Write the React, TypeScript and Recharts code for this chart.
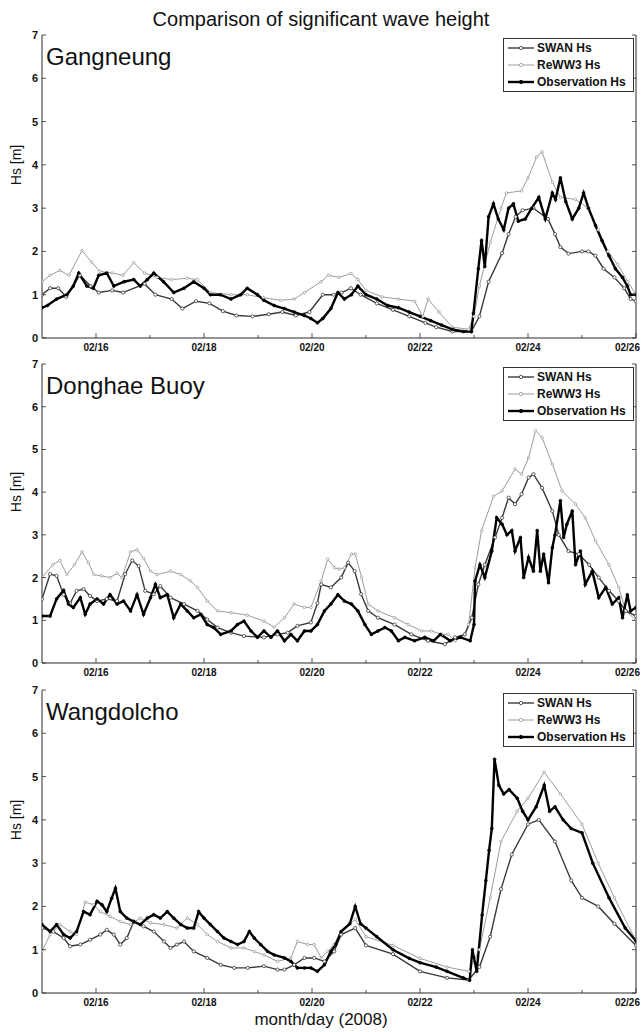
import React from 'react';
import { LineChart, Line, XAxis, YAxis } from 'recharts';

type P = [number, number][];

// ---------------- Data (time in days of Feb 2008, Hs in m) ----------------
const gangSwan: P = [[15.0,1.0],[15.15,1.15],[15.3,1.15],[15.45,0.95],[15.7,1.45],[15.9,1.2],[16.05,1.05],[16.3,1.1],[16.5,1.05],[16.9,1.25],[17.1,1.0],[17.4,0.9],[17.6,0.68],[17.85,0.85],[18.1,0.8],[18.35,0.62],[18.6,0.52],[18.9,0.5],[19.2,0.55],[19.45,0.6],[19.7,0.52],[19.95,0.6],[20.2,1.0],[20.4,1.0],[20.55,1.05],[20.72,1.15],[20.9,1.0],[21.2,0.8],[21.5,0.65],[21.8,0.5],[22.1,0.35],[22.3,0.25],[22.6,0.15],[22.95,0.15],[23.1,0.5],[23.27,1.3],[23.52,1.96],[23.64,2.4],[23.77,2.8],[23.9,2.95],[24.1,3.0],[24.37,2.75],[24.5,2.4],[24.6,2.1],[24.75,1.95],[25.0,2.0],[25.12,2.0],[25.25,1.9],[25.4,1.6],[25.6,1.4],[25.78,1.15],[25.9,0.9],[26.0,0.85]];
const gangReww3: P = [[15.0,1.3],[15.15,1.45],[15.33,1.56],[15.5,1.45],[15.74,2.02],[15.92,1.75],[16.07,1.54],[16.3,1.5],[16.5,1.45],[16.7,1.74],[16.9,1.5],[17.13,1.4],[17.4,1.35],[17.69,1.38],[17.88,1.35],[18.12,1.05],[18.5,1.0],[18.8,1.0],[19.1,0.93],[19.42,0.87],[19.67,0.9],[19.86,1.05],[20.17,1.3],[20.3,1.45],[20.5,1.4],[20.72,1.49],[20.85,1.35],[21.0,1.1],[21.3,0.95],[21.6,0.9],[21.9,0.85],[22.05,0.5],[22.15,0.9],[22.35,0.6],[22.6,0.25],[22.9,0.2],[23.0,0.5],[23.1,1.2],[23.3,2.2],[23.5,3.0],[23.6,3.35],[23.88,3.4],[24.0,3.7],[24.16,4.18],[24.26,4.3],[24.45,3.6],[24.6,3.25],[24.88,3.2],[25.12,3.0],[25.3,2.5],[25.48,2.0],[25.66,1.7],[25.85,1.3],[26.0,1.0]];
const gangObs: P = [[15.0,0.7],[15.1,0.75],[15.27,0.9],[15.46,1.0],[15.58,1.2],[15.68,1.5],[15.83,1.2],[15.95,1.15],[16.05,1.45],[16.2,1.5],[16.33,1.2],[16.52,1.3],[16.7,1.35],[16.82,1.2],[16.95,1.35],[17.07,1.5],[17.25,1.3],[17.44,1.05],[17.63,1.15],[17.81,1.3],[18.0,1.15],[18.12,1.0],[18.3,1.0],[18.5,0.9],[18.68,1.0],[18.8,1.15],[18.99,1.0],[19.11,0.87],[19.3,0.75],[19.49,0.68],[19.67,0.6],[19.86,0.52],[19.98,0.45],[20.1,0.35],[20.2,0.45],[20.35,0.68],[20.48,1.05],[20.6,0.9],[20.73,1.0],[20.85,1.2],[21.0,1.0],[21.2,0.9],[21.4,0.75],[21.6,0.7],[21.8,0.6],[22.0,0.5],[22.2,0.4],[22.4,0.3],[22.6,0.2],[22.8,0.15],[22.95,0.15],[22.99,0.57],[23.08,1.6],[23.14,2.26],[23.2,1.65],[23.27,2.8],[23.36,3.1],[23.45,2.75],[23.55,2.5],[23.64,3.0],[23.73,3.1],[23.82,2.7],[23.95,2.75],[24.07,3.0],[24.2,3.25],[24.32,2.75],[24.45,3.35],[24.51,3.2],[24.6,3.7],[24.7,3.15],[24.82,2.75],[24.94,3.0],[25.03,3.35],[25.12,3.0],[25.25,2.6],[25.37,2.25],[25.5,1.9],[25.62,1.6],[25.75,1.4],[25.84,1.2],[25.9,1.0],[26.0,1.0]];

const dongSwan: P = [[15.0,1.5],[15.15,2.08],[15.27,2.04],[15.4,1.6],[15.52,1.4],[15.64,1.69],[15.77,1.73],[15.89,1.57],[16.02,1.45],[16.2,1.5],[16.39,1.45],[16.54,2.08],[16.67,2.4],[16.79,2.27],[16.91,1.69],[17.07,1.61],[17.19,1.8],[17.38,1.53],[17.63,1.38],[17.88,1.22],[18.06,1.02],[18.25,0.83],[18.5,0.71],[18.74,0.63],[19.11,0.6],[19.36,0.67],[19.55,0.71],[19.73,0.87],[19.98,0.95],[20.1,1.4],[20.17,1.84],[20.35,1.77],[20.54,2.0],[20.67,2.35],[20.79,2.15],[20.91,1.61],[21.04,1.22],[21.22,1.06],[21.53,0.9],[21.84,0.67],[22.15,0.52],[22.46,0.44],[22.65,0.6],[22.83,0.67],[22.96,1.06],[23.08,1.84],[23.2,2.3],[23.39,2.94],[23.52,3.4],[23.64,3.87],[23.76,3.72],[23.88,3.95],[24.01,4.34],[24.1,4.42],[24.26,4.1],[24.45,3.56],[24.57,3.0],[24.75,2.62],[24.94,2.55],[25.13,2.3],[25.31,2.0],[25.5,1.69],[25.68,1.45],[25.81,1.22],[26.0,1.1]];
const dongReww3: P = [[15.0,2.0],[15.2,2.3],[15.33,2.4],[15.46,2.07],[15.6,2.3],[15.74,2.6],[15.86,2.35],[15.96,2.07],[16.1,2.04],[16.26,2.0],[16.39,2.1],[16.48,2.0],[16.64,2.6],[16.76,2.65],[16.88,2.45],[17.01,2.15],[17.13,2.07],[17.38,2.15],[17.57,2.07],[17.75,1.92],[17.88,1.77],[18.06,1.45],[18.25,1.22],[18.5,1.18],[18.8,1.12],[19.11,0.98],[19.3,0.84],[19.49,1.06],[19.67,1.38],[19.86,1.3],[19.98,1.3],[20.17,1.92],[20.29,2.43],[20.42,2.23],[20.5,2.2],[20.6,2.23],[20.73,2.55],[20.8,2.55],[20.92,2.0],[21.04,1.38],[21.22,1.22],[21.53,1.06],[21.78,0.9],[22.03,0.75],[22.21,0.75],[22.4,0.67],[22.52,0.67],[22.65,0.52],[22.83,0.67],[22.9,0.9],[23.02,2.23],[23.14,3.1],[23.36,3.9],[23.52,4.03],[23.76,4.54],[23.88,4.42],[24.01,4.8],[24.14,5.44],[24.26,5.28],[24.45,4.66],[24.63,4.03],[24.88,3.72],[25.06,3.4],[25.25,2.86],[25.5,2.3],[25.68,1.77],[25.81,1.22],[26.0,1.0]];
const dongObs: P = [[15.0,1.1],[15.15,1.1],[15.27,1.5],[15.4,1.7],[15.49,1.38],[15.58,1.3],[15.71,1.53],[15.8,1.14],[15.89,1.38],[16.02,1.5],[16.14,1.38],[16.26,1.6],[16.39,1.38],[16.51,1.45],[16.64,1.22],[16.76,1.6],[16.88,1.14],[17.01,1.53],[17.1,1.84],[17.19,1.53],[17.32,1.6],[17.44,1.06],[17.57,1.38],[17.69,1.22],[17.81,1.06],[17.94,1.14],[18.06,0.9],[18.18,0.83],[18.31,0.67],[18.5,0.75],[18.62,0.9],[18.74,0.98],[18.87,0.75],[18.99,0.6],[19.11,0.75],[19.24,0.6],[19.36,0.75],[19.49,0.52],[19.61,0.67],[19.73,0.52],[19.86,0.75],[19.98,0.75],[20.1,0.9],[20.23,1.22],[20.35,1.38],[20.48,1.6],[20.6,1.45],[20.73,1.38],[20.85,1.22],[20.98,0.9],[21.1,0.67],[21.22,0.75],[21.35,0.83],[21.47,0.75],[21.6,0.52],[21.72,0.6],[21.9,0.52],[22.09,0.6],[22.25,0.52],[22.38,0.67],[22.56,0.52],[22.75,0.6],[22.93,0.52],[23.0,0.9],[23.02,1.92],[23.11,2.3],[23.2,2.0],[23.33,2.62],[23.42,3.4],[23.52,3.25],[23.61,3.0],[23.7,3.1],[23.76,2.62],[23.86,2.94],[23.92,2.0],[24.01,2.47],[24.1,2.15],[24.17,3.1],[24.23,2.15],[24.29,2.55],[24.38,1.88],[24.45,2.7],[24.5,3.0],[24.6,3.8],[24.66,2.94],[24.72,3.25],[24.82,3.56],[24.88,2.3],[24.97,2.62],[25.06,1.84],[25.19,2.15],[25.31,1.53],[25.44,1.77],[25.56,1.38],[25.68,1.53],[25.75,1.06],[25.84,1.6],[25.9,1.22],[26.0,1.3]];

const wangSwan: P = [[15.0,1.5],[15.21,1.42],[15.4,1.27],[15.52,1.08],[15.71,1.12],[15.89,1.23],[16.08,1.35],[16.2,1.46],[16.33,1.35],[16.45,1.12],[16.57,1.27],[16.7,1.65],[16.88,1.54],[17.07,1.42],[17.26,1.19],[17.38,1.04],[17.5,1.12],[17.63,1.19],[17.81,0.96],[18.06,0.81],[18.31,0.65],[18.56,0.58],[18.81,0.58],[19.11,0.62],[19.36,0.54],[19.49,0.54],[19.67,0.65],[19.86,0.81],[20.04,0.81],[20.23,0.73],[20.41,0.96],[20.54,1.35],[20.8,1.5],[21.0,1.1],[21.5,0.9],[22.0,0.5],[22.5,0.35],[22.9,0.3],[23.1,0.6],[23.3,1.3],[23.5,2.4],[23.7,3.2],[24.0,3.9],[24.2,4.0],[24.5,3.5],[24.8,2.6],[25.0,2.2],[25.3,2.0],[25.6,1.6],[26.0,1.1]];
const wangReww3: P = [[15.0,0.96],[15.15,1.35],[15.33,1.58],[15.52,1.42],[15.64,1.35],[15.8,2.1],[15.95,2.04],[16.08,1.88],[16.26,1.77],[16.45,1.65],[16.64,1.58],[16.82,1.73],[17.01,1.62],[17.26,1.58],[17.5,1.5],[17.69,1.73],[17.88,1.58],[18.06,1.35],[18.25,1.19],[18.5,1.04],[18.74,1.04],[18.93,0.96],[19.11,0.88],[19.36,0.73],[19.61,0.81],[19.73,1.19],[19.92,1.12],[20.04,1.12],[20.17,0.81],[20.29,0.96],[20.41,1.12],[20.54,1.42],[20.8,1.7],[21.0,1.3],[21.5,1.1],[22.0,0.8],[22.5,0.6],[22.9,0.5],[23.1,1.0],[23.3,2.2],[23.5,3.5],[23.8,4.2],[24.0,4.5],[24.3,5.1],[24.6,4.6],[25.0,3.9],[25.3,3.0],[25.6,2.2],[26.0,1.2]];
const wangObs: P = [[15.0,1.58],[15.15,1.42],[15.27,1.58],[15.4,1.35],[15.52,1.27],[15.64,1.42],[15.77,1.88],[15.89,1.81],[16.02,2.12],[16.11,2.04],[16.2,1.88],[16.29,2.19],[16.36,2.42],[16.45,1.88],[16.57,1.73],[16.7,1.65],[16.82,1.58],[16.95,1.73],[17.07,1.81],[17.19,1.73],[17.32,1.88],[17.44,1.73],[17.57,1.58],[17.69,1.5],[17.81,1.5],[17.9,1.88],[18.0,1.73],[18.12,1.58],[18.25,1.42],[18.37,1.27],[18.5,1.19],[18.62,1.12],[18.74,1.19],[18.84,1.42],[18.93,1.27],[19.05,1.12],[19.18,0.96],[19.3,0.88],[19.49,0.81],[19.61,0.73],[19.73,0.58],[19.86,0.58],[19.98,0.58],[20.1,0.5],[20.23,0.65],[20.35,0.96],[20.44,1.12],[20.54,1.42],[20.7,1.6],[20.8,2.0],[20.9,1.6],[21.0,1.5],[21.2,1.3],[21.5,1.0],[21.8,0.8],[22.0,0.7],[22.3,0.6],[22.5,0.5],[22.8,0.35],[22.92,0.3],[22.97,1.0],[23.05,0.5],[23.15,1.8],[23.22,2.6],[23.28,3.3],[23.33,3.8],[23.38,5.4],[23.46,4.8],[23.55,4.6],[23.65,4.7],[23.8,4.5],[23.9,4.2],[24.0,4.0],[24.15,4.3],[24.3,4.8],[24.4,4.2],[24.5,4.3],[24.65,4.0],[24.8,3.8],[25.0,3.7],[25.2,3.0],[25.5,2.2],[25.8,1.5],[26.0,1.2]];

const dayTicks = [16, 17, 18, 19, 20, 21, 22, 23, 24, 25, 26];
const labelDays = [16, 18, 20, 22, 24, 26];
const yTicks = [0, 1, 2, 3, 4, 5, 6, 7];
const seriesNames = ['SWAN Hs', 'ReWW3 Hs', 'Observation Hs'];
const panelNames = ['Gangneung', 'Donghae Buoy', 'Wangdolcho'];

// ---------------- Styles ----------------
const FONT = '"Liberation Sans", Arial, Helvetica, sans-serif';
const AX = '#2a2a2a';
const SWAN_C = '#3a3a3a';
const REWW3_C = '#9c9c9c';
const OBS_C = '#000000';

const toRows = (p: P) => p.map(([t, v]) => ({ t, v }));

const YTick = (props: any) => {
  const { x, y, payload } = props;
  return (
    <g>
      <line x1={x + 4} x2={x + 8} y1={y} y2={y} stroke={AX} strokeWidth={0.8} />
      <text x={x} y={y} dy={4} textAnchor="end" fontSize={11} fontWeight="bold" fill="#111" fontFamily={FONT}>
        {payload.value}
      </text>
    </g>
  );
};
const YRightTick = (props: any) => {
  const { x, y } = props;
  return <line x1={x} x2={x - 4} y1={y} y2={y} stroke={AX} strokeWidth={0.8} />;
};
const XTick = (props: any) => {
  const { x, y, payload } = props;
  const v = payload.value as number;
  const labeled = labelDays.indexOf(v) >= 0;
  const last = v === labelDays[labelDays.length - 1];
  return (
    <g>
      <line x1={x} x2={x} y1={y - 4} y2={y - (labeled ? 9 : 7)} stroke={AX} strokeWidth={0.8} />
      {labeled && (
        <text x={last ? x + 4 : x} y={y} dy={9} textAnchor={last ? 'end' : 'middle'} fontSize={10}
          fontWeight="bold" fill="#111" fontFamily={FONT}>
          {`02/${v}`}
        </text>
      )}
    </g>
  );
};
const XTopTick = (props: any) => {
  const { x, y } = props;
  return <line x1={x} x2={x} y1={y} y2={y + 5} stroke={AX} strokeWidth={0.8} />;
};

const LegendBox = ({ top }: { top: number }) => {
  const styles = [
    { c: SWAN_C, w: 1.4, fill: '#fff' },
    { c: REWW3_C, w: 1, fill: '#fff' },
    { c: OBS_C, w: 2.4, fill: OBS_C },
  ];
  return (
    <div style={{ position: 'absolute', left: 503, top, width: 129, height: 52, border: '1px solid #333',
      background: '#fff', fontFamily: FONT, fontSize: 12, fontWeight: 'bold', color: '#111' }}>
      {seriesNames.map((n, i) => (
        <div key={n} style={{ position: 'absolute', left: 3, top: 2 + i * 17, height: 14, display: 'flex', alignItems: 'center' }}>
          <svg width={28} height={14} style={{ display: 'block' }}>
            <line x1={1} x2={27} y1={7} y2={7} stroke={styles[i].c} strokeWidth={styles[i].w} />
            <circle cx={14} cy={7} r={1.7} fill={styles[i].fill} stroke={styles[i].c} strokeWidth={0.8} />
          </svg>
          <span style={{ marginLeft: 2, whiteSpace: 'nowrap' }}>{n}</span>
        </div>
      ))}
    </div>
  );
};

type PanelProps = { idx: number; top: number; h: number; swan: P; reww3: P; obs: P };

const Panel = ({ idx, top, h, swan, reww3, obs }: PanelProps) => {
  const mt = 10;
  const xh = 24;
  return (
    <div style={{ position: 'absolute', left: 0, top: top - mt }}>
      <LineChart width={642} height={mt + h + xh} margin={{ top: mt, right: 5, bottom: 0, left: 12 }}>
        <XAxis xAxisId="b" dataKey="t" type="number" domain={[15, 26]} ticks={dayTicks} interval={0}
          allowDataOverflow tickSize={0} tickMargin={4} tick={<XTick />} axisLine={{ stroke: AX }} height={xh} />
        <XAxis xAxisId="top" orientation="top" dataKey="t" type="number" domain={[15, 26]} ticks={labelDays} interval={0}
          allowDataOverflow tickSize={0} tickMargin={0} tick={<XTopTick />} axisLine={{ stroke: AX }} height={0} />
        <YAxis yAxisId="l" type="number" domain={[0, 7]} ticks={yTicks} interval={0} allowDataOverflow
          width={30} tickSize={0} tickMargin={4} tick={<YTick />} axisLine={{ stroke: AX }} />
        <YAxis yAxisId="r" orientation="right" type="number" domain={[0, 7]} ticks={yTicks} interval={0} allowDataOverflow
          width={1} tickSize={0} tickMargin={0} tick={<YRightTick />} axisLine={{ stroke: AX }} />
        <Line xAxisId="b" yAxisId="l" data={toRows(reww3)} dataKey="v" name={seriesNames[1]} type="linear"
          stroke={REWW3_C} strokeWidth={1} isAnimationActive={false}
          dot={{ r: 1.3, fill: '#fff', stroke: REWW3_C, strokeWidth: 0.8 }} />
        <Line xAxisId="b" yAxisId="l" data={toRows(swan)} dataKey="v" name={seriesNames[0]} type="linear"
          stroke={SWAN_C} strokeWidth={1.4} isAnimationActive={false}
          dot={{ r: 1.6, fill: '#fff', stroke: SWAN_C, strokeWidth: 0.8 }} />
        <Line xAxisId="b" yAxisId="l" data={toRows(obs)} dataKey="v" name={seriesNames[2]} type="linear"
          stroke={OBS_C} strokeWidth={2.4} isAnimationActive={false}
          dot={{ r: 1.5, fill: OBS_C, stroke: OBS_C, strokeWidth: 0.5 }} />
      </LineChart>
      <div style={{ position: 'absolute', left: 46, top: mt + 8, fontSize: 24, lineHeight: '28px', fontFamily: FONT, color: '#111' }}>
        {panelNames[idx]}
      </div>
      <div style={{ position: 'absolute', left: 0, top: mt + h / 2 - 22, width: 32, height: 0 }}>
        <div style={{ position: 'absolute', left: 16, top: 0, transform: 'translate(-50%, -50%) rotate(-90deg)',
          whiteSpace: 'nowrap', fontSize: 14, fontFamily: FONT, color: '#111' }}>Hs [m]</div>
      </div>
      <LegendBox top={mt + 3} />
    </div>
  );
};

export default function App() {
  return (
    <div style={{ position: 'absolute', left: 0, top: 0, width: 642, height: 1032, background: '#fff', fontFamily: FONT }}>
      <div style={{ position: 'absolute', left: 0, top: 8, width: 642, textAlign: 'center', fontSize: 20, lineHeight: '23px', color: '#111' }}>
        Comparison of significant wave height
      </div>
      <Panel idx={0} top={35} h={303} swan={gangSwan} reww3={gangReww3} obs={gangObs} />
      <Panel idx={1} top={364} h={299} swan={dongSwan} reww3={dongReww3} obs={dongObs} />
      <Panel idx={2} top={690} h={303} swan={wangSwan} reww3={wangReww3} obs={wangObs} />
      <div style={{ position: 'absolute', left: 0, top: 1010, width: 642, textAlign: 'center', fontSize: 17, lineHeight: '20px', color: '#111' }}>
        month/day (2008)
      </div>
    </div>
  );
}
